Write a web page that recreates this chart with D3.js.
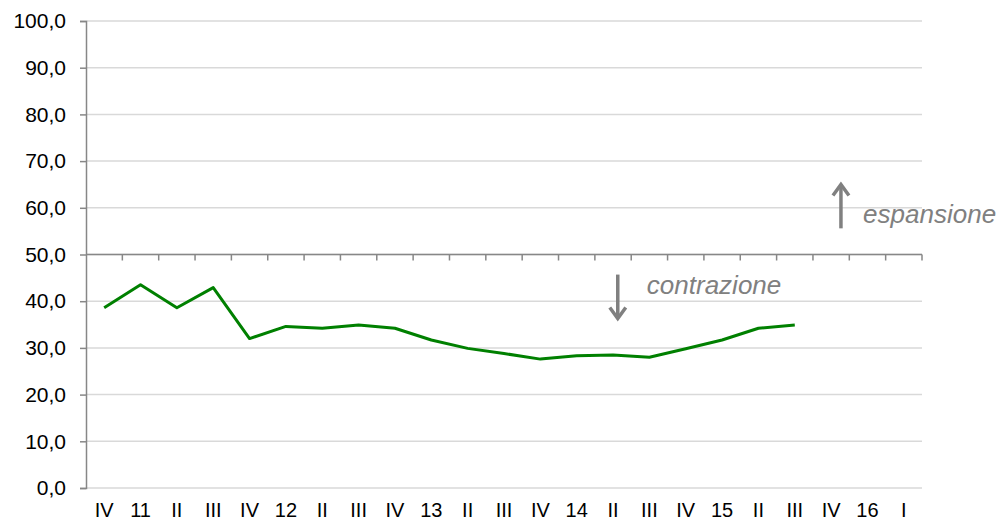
<!DOCTYPE html>
<html>
<meta charset="UTF-8">
<head>
<style>
body { margin: 0; background: white; }
text { font-family: "Liberation Sans", Arial, sans-serif; }
</style>
</head>
<body>
<script src="https://d3js.org/d3.v7.min.js"></script>
<script>

// data
var categories = ['IV', '11', 'II', 'III', 'IV', '12', 'II', 'III', 'IV', '13', 'II', 'III',
                  'IV', '14', 'II', 'III', 'IV', '15', 'II', 'III', 'IV', '16', 'I']
var values = [38.6, 43.5, 38.6, 42.9, 32.0, 34.6, 34.2, 34.9, 34.2, 31.7, 29.9, 28.8,
              27.6, 28.3, 28.5, 28.0, 29.8, 31.7, 34.2, 34.9]
var yTicks = [0, 10, 20, 30, 40, 50, 60, 70, 80, 90, 100]

// canvas
var svgWidth = 1002,
    svgHeight = 523,
    margin = {top: 21, bottom: 35, left: 86, right: 80}

var svg = d3.select('body').append('svg')
    .attr('width', svgWidth)
    .attr('height', svgHeight)

var xBand = d3.scaleBand()
    .domain(d3.range(categories.length))
    .range([margin.left, svgWidth - margin.right])
    .padding(0)

// fractional index scale for annotations
var xIdx = d3.scaleLinear()
    .domain([0, categories.length])
    .range([margin.left, svgWidth - margin.right])

var yScale = d3.scaleLinear()
    .domain([0, 100])
    .range([svgHeight - margin.bottom, margin.top])

// gridlines
svg.append('g')
    .selectAll('line')
    .data(yTicks)
    .enter().append('line')
      .attr('x1', margin.left)
      .attr('x2', svgWidth - margin.right)
      .attr('y1', d => yScale(d))
      .attr('y2', d => yScale(d))
      .attr('stroke', '#d9d9d9')
      .attr('stroke-width', 1.5)

// y axis
var yAxis = d3.axisLeft(yScale)
    .tickValues(yTicks)
    .tickSize(6)
    .tickFormat(d => d3.format('.1f')(d).replace('.', ','))

var gy = svg.append('g')
    .attr('transform', 'translate(' + margin.left + ',0)')
    .call(yAxis)
gy.select('.domain').attr('stroke', '#878787').attr('stroke-width', 1.5)
gy.selectAll('.tick line').attr('stroke', '#878787').attr('stroke-width', 1.5)
gy.selectAll('.tick text')
    .attr('font-size', 21)
    .attr('fill', '#000')
    .attr('x', -20)
    .style('font-family', '"Liberation Sans", Arial, sans-serif')

// horizontal axis crossing at 50 with ticks at band boundaries
var y50 = yScale(50)
svg.append('line')
    .attr('x1', margin.left)
    .attr('x2', svgWidth - margin.right)
    .attr('y1', y50)
    .attr('y2', y50)
    .attr('stroke', '#878787')
    .attr('stroke-width', 1.5)

svg.append('g')
    .selectAll('line')
    .data(d3.range(1, categories.length + 1))
    .enter().append('line')
      .attr('x1', d => xIdx(d))
      .attr('x2', d => xIdx(d))
      .attr('y1', y50)
      .attr('y2', y50 + 6)
      .attr('stroke', '#878787')
      .attr('stroke-width', 1.5)

// category labels at the bottom
svg.append('g')
    .selectAll('text')
    .data(categories)
    .enter().append('text')
      .attr('x', (d, i) => xBand(i) + xBand.bandwidth() / 2)
      .attr('y', 517)
      .attr('text-anchor', 'middle')
      .attr('font-size', 20)
      .attr('fill', '#000')
      .text(d => d)

// line
var line = d3.line()
    .x((d, i) => xBand(i) + xBand.bandwidth() / 2)
    .y(d => yScale(d))

svg.append('path')
    .datum(values)
    .attr('d', line)
    .attr('fill', 'none')
    .attr('stroke', '#008000')
    .attr('stroke-width', 3)
    .attr('stroke-linejoin', 'round')

// annotations
var grey = '#808080'

function arrow(xi, vFrom, vTo) {
    var x = xIdx(xi), y0 = yScale(vFrom), y1 = yScale(vTo)
    var dir = y1 < y0 ? 1 : -1
    svg.append('line')
        .attr('x1', x).attr('x2', x)
        .attr('y1', y0).attr('y2', y1 + dir * 2)
        .attr('stroke', grey).attr('stroke-width', 3.5)
    svg.append('path')
        .attr('d', 'M' + (x - 8) + ',' + (y1 + dir * 11) + 'L' + x + ',' + (y1) + 'L' + (x + 8) + ',' + (y1 + dir * 11))
        .attr('fill', 'none')
        .attr('stroke', grey)
        .attr('stroke-width', 3.5)
        .attr('stroke-linejoin', 'miter')
}

arrow(20.77, 55.6, 65.0)
arrow(14.63, 45.7, 36.3)

svg.append('text')
    .attr('x', xIdx(21.38))
    .attr('y', yScale(56.8))
    .attr('font-size', 26)
    .attr('font-style', 'italic')
    .attr('fill', grey)
    .text('espansione')

svg.append('text')
    .attr('x', xIdx(15.43))
    .attr('y', yScale(41.6))
    .attr('font-size', 26)
    .attr('font-style', 'italic')
    .attr('fill', grey)
    .text('contrazione')

</script>
</body>
</html>
